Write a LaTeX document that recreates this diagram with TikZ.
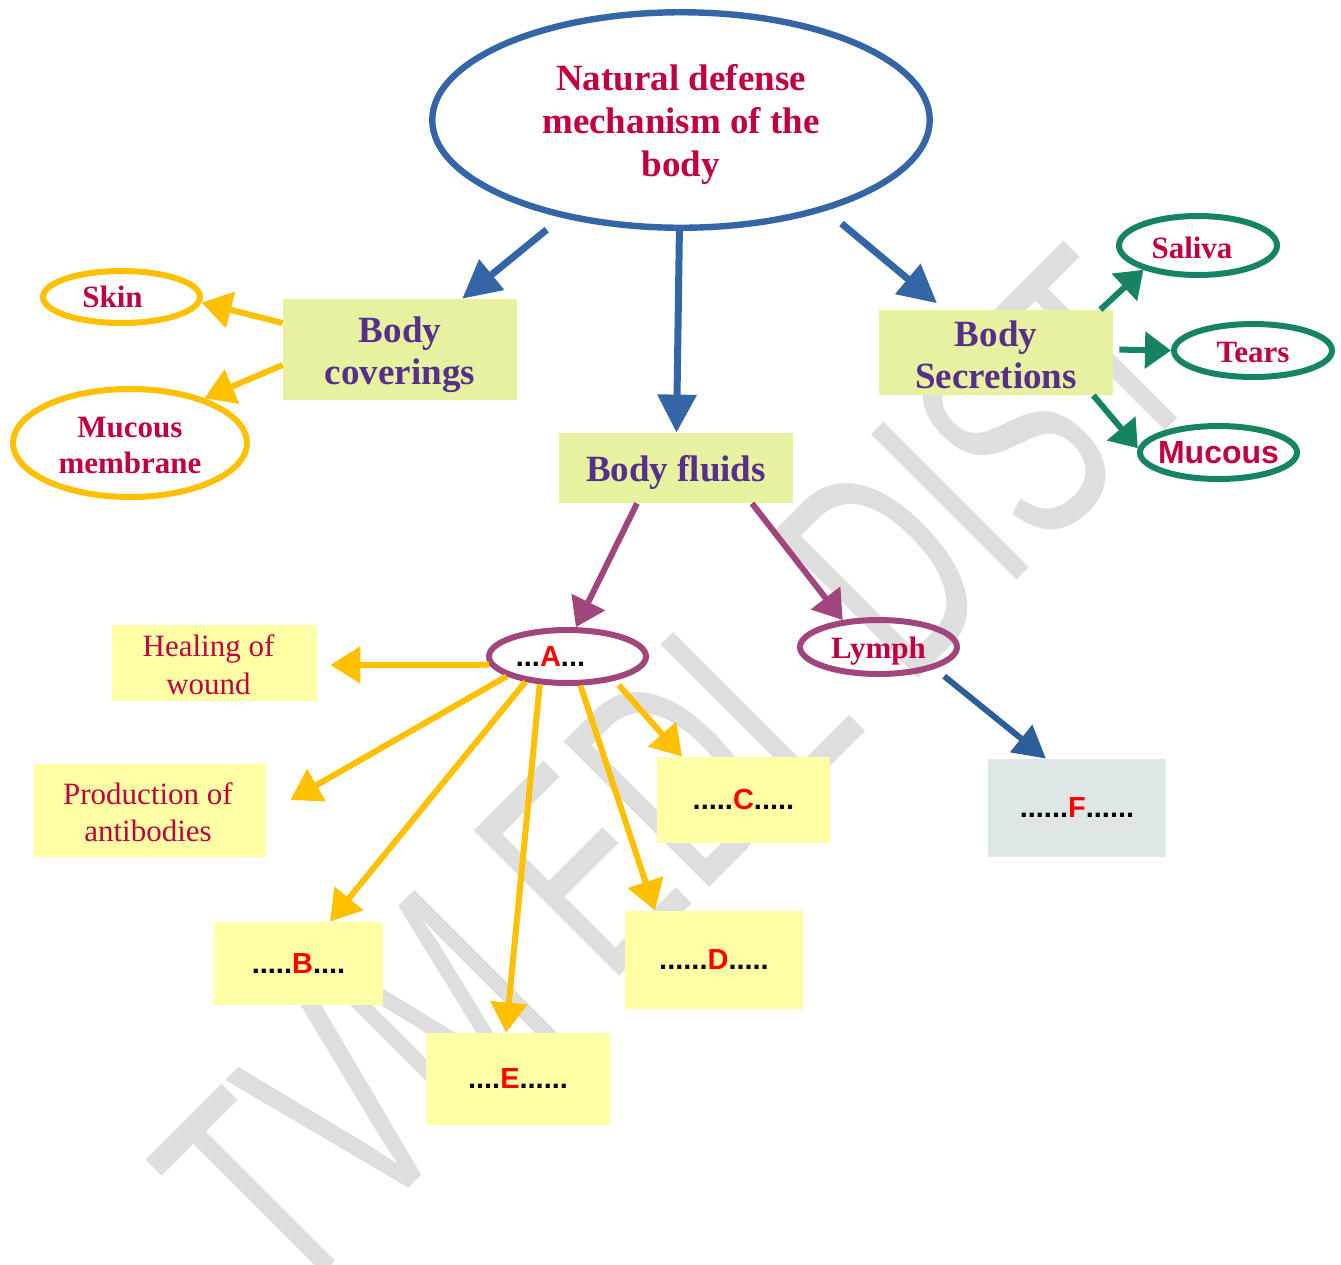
\documentclass[tikz,border=0pt]{standalone}
\usepackage{fontspec}
\setmainfont{Liberation Serif}
\newfontfamily\sansb{Liberation Sans}
\newfontfamily\wmfont{Liberation Sans}
\usetikzlibrary{arrows.meta,shapes.geometric,calc}
\definecolor{cBlue}{RGB}{52,102,166}
\definecolor{cBlueD}{RGB}{44,95,152}
\definecolor{cRedT}{RGB}{192,0,64}
\definecolor{cPurT}{RGB}{86,46,140}
\definecolor{cGY}{RGB}{232,241,160}
\definecolor{cLY}{RGB}{255,255,166}
\definecolor{cGreyBox}{RGB}{222,230,230}
\definecolor{cOr}{RGB}{255,192,0}
\definecolor{cGr}{RGB}{22,132,100}
\definecolor{cPu}{RGB}{160,70,125}
\definecolor{cWM}{RGB}{222,222,222}
\definecolor{cLetter}{RGB}{255,0,0}
\tikzset{
  ell/.style={ellipse, inner sep=0pt, line width=3pt},
  redlbl/.style={text=cRedT, font=\bfseries\fontsize{15.5pt}{18pt}\selectfont},
  gybox/.style={rectangle, fill=cGY, inner sep=0pt, text=cPurT,
    font=\bfseries\fontsize{18.5pt}{21pt}\selectfont},
  lybox/.style={rectangle, fill=cLY, inner sep=0pt},
  lettbox/.style={rectangle, inner sep=0pt, font=\sansb\bfseries\fontsize{14.5pt}{17pt}\selectfont},
  barr/.style={draw=cBlue, line width=3.5pt, -{Triangle[length=19pt,width=19pt]}},
  oarr/.style={draw=cOr, line width=3pt, -{Triangle[length=15pt,width=18pt]}},
  garr/.style={draw=cGr, line width=3pt, -{Triangle[length=13pt,width=18pt]}},
  parr/.style={draw=cPu, line width=3pt, -{Triangle[length=14pt,width=18pt]}},
  darr/.style={draw=cBlueD, line width=3pt, -{Triangle[length=16pt,width=17pt]}},
}
\newcommand{\lett}[3]{#1\textcolor{cLetter}{#2}#3}
% lower the text inside a node without changing the box it occupies
\newcommand{\txtdown}[2]{\raisebox{-#1}[\height][\depth]{\begin{tabular}{@{}c@{}}#2\end{tabular}}}
\begin{document}
\begin{tikzpicture}[x=0.5pt,y=-0.5pt]
\useasboundingbox (0,0) rectangle (1341,1265);
\fill[white] (0,0) rectangle (1341,1265);
% watermark
\begin{scope}
\clip (0,0) rectangle (1341,1265);
\node[rotate=45, anchor=base west, inner sep=0pt, text=cWM,
  font=\wmfont\fontsize{149.5pt}{150pt}\selectfont] (wm) at (287.8,1308.8)
  {\scalebox{0.635}[1]{TVM EDL DIST}};
\end{scope}

% main nodes
\node[ell, draw=cBlue, line width=3.2pt, minimum width=248.75pt, minimum height=107.75pt,
  text=cRedT, font=\bfseries\fontsize{18.5pt}{21.5pt}\selectfont] (title) at (681,120)
  {\txtdown{2.5pt}{Natural defense\\mechanism of the\\body}};
\node[gybox, minimum width=117pt, minimum height=50.5pt] (coverings) at (400,349.5) {\txtdown{3pt}{Body\\coverings}};
\node[gybox, minimum width=117pt, minimum height=35pt] (fluids) at (676,468) {\txtdown{2.5pt}{Body fluids}};
\node[gybox, minimum width=117pt, minimum height=42.5pt] (secr) at (996,352.5) {\txtdown{3.5pt}{Body\\Secretions}};

\node[ell, draw=cOr, redlbl, minimum width=78.5pt, minimum height=26pt] (skin) at (121.5,297) {\makebox[0pt]{Skin\kern9pt}};
\node[ell, draw=cOr, redlbl, minimum width=117pt, minimum height=54pt] (mucmem) at (130,443) {\txtdown{2.5pt}{Mucous\\membrane}};

\node[ell, draw=cGr, redlbl, minimum width=79pt, minimum height=29.5pt] (saliva) at (1198,245.5) {\makebox[0pt]{\txtdown{3pt}{Saliva}\kern6pt}};
\node[ell, draw=cGr, redlbl, minimum width=79pt, minimum height=26.5pt] (tears) at (1253,350.5) {\makebox[0pt]{\txtdown{2.5pt}{Tears}}};
\node[ell, draw=cGr, text=cRedT, font=\sansb\bfseries\fontsize{16pt}{18pt}\selectfont,
  minimum width=78.5pt, minimum height=26.5pt] (mucous) at (1218.5,452.5) {\makebox[0pt]{Mucous}};

\node[ell, draw=cPu, font=\sansb\bfseries\fontsize{14.5pt}{17pt}\selectfont,
  minimum width=78.5pt, minimum height=26.5pt] (A) at (567.5,656.5)
  {\makebox[0pt]{\lett{...}{A}{...}\kern17pt}};
\node[ell, draw=cPu, redlbl, minimum width=78.5pt, minimum height=27pt] (lymph) at (878.5,647) {\makebox[0pt]{\txtdown{2pt}{Lymph}}};

\node[lybox, text=cRedT, font=\fontsize{15.5pt}{19pt}\selectfont, minimum width=102.5pt, minimum height=33pt]
  (heal) at (214.5,663) {\txtdown{2.5pt}{Healing of\\wound}\kern6pt};
\node[lybox, text=cRedT, font=\fontsize{15.5pt}{18.5pt}\selectfont, minimum width=116pt, minimum height=46.5pt]
  (prod) at (150,810.5) {\txtdown{2.5pt}{Production of\\antibodies}\kern2pt};

\node[lettbox, fill=cLY, minimum width=86.5pt, minimum height=43pt] (C) at (743.5,800) {\lett{.....}{C}{.....}};
\node[lettbox, fill=cLY, minimum width=84.5pt, minimum height=41.5pt] (B) at (298.5,963.5) {\lett{.....}{B}{....}};
\node[lettbox, fill=cLY, minimum width=89pt, minimum height=49pt] (D) at (714,960) {\lett{......}{D}{.....}};
\node[lettbox, fill=cLY, minimum width=92pt, minimum height=46pt] (E) at (518,1079) {\lett{....}{E}{......}};
\node[lettbox, fill=cGreyBox, minimum width=89pt, minimum height=49pt] (F) at (1077,808) {\lett{......}{F}{......}};

% connectors
\draw[barr, shorten <=9.5pt] (title) -- (coverings);
\draw[barr] (title) -- (fluids);
\draw[barr, shorten <=10pt, shorten >=5pt] (title.-32) -- (secr);

\draw[oarr] ($(coverings.west)+(0,-26.5)$) -- (skin.-4);
\draw[oarr] ($(coverings.west)+(0,15.5)$) -- (mucmem.31);

\draw[garr] ($(secr.north east)+(-13,0)$) -- (saliva.204);
\draw[garr, shorten <=3pt] ($(secr.east)+(0,-3)$) -- (tears.west);
\draw[garr] ($(secr.south east)+(-20,0)$) -- (mucous.177);

\draw[parr] ($(fluids.south)+(-39,0)$) -- (A.74);
\draw[parr] ($(fluids.south)+(76,0)$) -- (lymph.143);
\draw[darr, shorten <=6pt] (lymph.-21) -- ($(F.north)+(-31,0)$);

\draw[oarr] (A.186) -- ($(heal.east)+(13,2)$);
\draw[oarr] (A.198) -- ($(prod.east)+(24,-10.5)$);
\draw[oarr] (A.211) -- ($(B.north)+(31.5,0)$);
\draw[oarr] (A.225) -- ($(E.north)+(-12,0)$);
\draw[oarr] (A.-66) -- ($(D.north)+(-59,0)$);
\draw[oarr, shorten <=3pt] (A.-27) -- ($(C.north)+(-61.5,0)$);
\end{tikzpicture}
\end{document}
